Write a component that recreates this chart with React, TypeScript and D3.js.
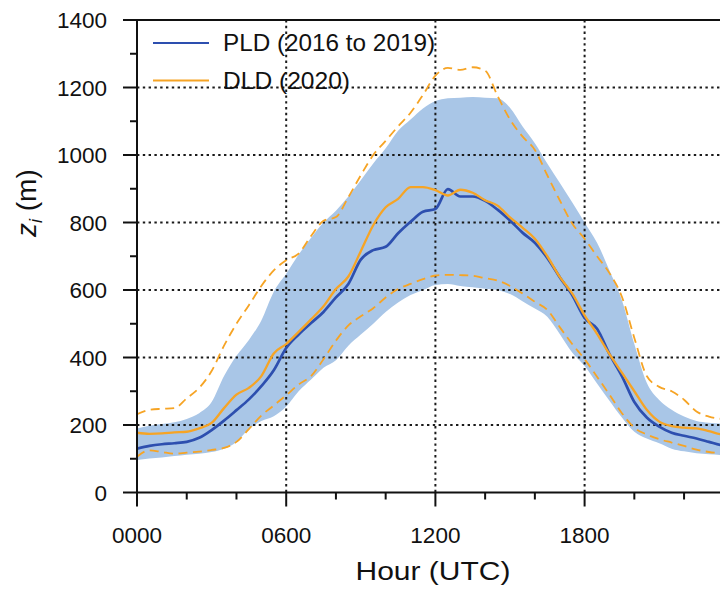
import React from "react";
import * as d3 from "d3";

// Hour of day (UTC), half-hourly
const hours: number[] = d3.range(0, 24.01, 0.5);

// PLD (2016 to 2019) mean boundary-layer height zi (m)
const pldMean: number[] = [
  130, 138, 143, 146, 150, 162, 185, 213, 244, 276, 315, 362, 428, 468, 502, 535,
  578, 618, 690, 718, 728, 768, 802, 832, 840, 899, 877, 877, 864, 838, 806, 770,
  740, 695, 638, 585, 517, 485, 410, 345, 268, 222, 195, 177, 168, 160, 150, 140, 135,
];

// PLD spread (shaded band)
const pldUpper: number[] = [
  190, 198, 203, 208, 218, 235, 268, 345, 405, 452, 510, 595, 648, 705, 755, 800,
  835, 877, 925, 975, 1020, 1072, 1105, 1138, 1160, 1168, 1170, 1172, 1170, 1168, 1140, 1085,
  1035, 975, 918, 860, 800, 740, 658, 570, 440, 325, 274, 245, 225, 212, 207, 204, 200,
];
const pldLower: number[] = [
  96, 101, 104, 108, 112, 115, 120, 130, 150, 188, 212, 226, 255, 300, 335, 370,
  392, 435, 468, 500, 535, 563, 585, 600, 615, 618, 612, 608, 604, 600, 588, 567,
  545, 521, 470, 415, 375, 323, 272, 222, 180, 160, 146, 130, 122, 116, 113, 111, 110,
];

// DLD (2020) mean and spread
const dldMean: number[] = [
  177, 174, 175, 178, 180, 190, 206, 250, 290, 310, 345, 412, 440, 476, 513, 552,
  603, 640, 715, 792, 845, 870, 905, 905, 896, 880, 897, 888, 866, 850, 815, 785,
  752, 700, 639, 590, 525, 470, 410, 355, 300, 245, 210, 197, 192, 190, 182, 172, 168,
];
const dldUpper: number[] = [
  232, 245, 248, 250, 279, 310, 360, 435, 500, 555, 612, 658, 688, 708, 760, 805,
  816, 875, 940, 1000, 1042, 1085, 1125, 1178, 1235, 1258, 1252, 1260, 1250, 1175, 1105, 1055,
  1015, 940, 866, 797, 752, 700, 650, 580, 458, 345, 313, 300, 275, 240, 225, 218, 215,
];
const dldLower: number[] = [
  106, 125, 120, 115, 118, 121, 126, 132, 150, 188, 228, 258, 288, 320, 345, 395,
  450, 495, 522, 546, 578, 603, 618, 632, 643, 645, 644, 642, 635, 628, 612, 590,
  565, 541, 490, 440, 395, 343, 290, 235, 192, 172, 158, 148, 138, 127, 120, 116, 114,
];

const xMajorTicks: number[] = [0, 6, 12, 18];
const xTickLabels: string[] = ["0000", "0600", "1200", "1800"];
const xMinorTicks: number[] = [2, 4, 8, 10, 14, 16, 20, 22];
const yMajorTicks: number[] = [0, 200, 400, 600, 800, 1000, 1200, 1400];
const yMinorTicks: number[] = [100, 300, 500, 700, 900, 1100, 1300];
const yGrid: number[] = [200, 400, 600, 800, 1000, 1200];
const xGrid: number[] = [6, 12, 18];

const legendItems = [
  { label: "PLD (2016 to 2019)", color: "#2d4faf", width: 212 },
  { label: "DLD (2020)", color: "#f6a425", width: 127 },
];

const W = 720;
const H = 589;
const left = 137;
const top = 20;
const bottom = 492.5;
const right = 733.8;

const FONT = "'Liberation Sans', Arial, Helvetica, sans-serif";

export default function App() {
  const x = d3.scaleLinear().domain([0, 24]).range([left, right]);
  const y = d3.scaleLinear().domain([0, 1400]).range([bottom, top]);

  const band = d3
    .area<number>()
    .x((_, i) => x(hours[i]))
    .y0((_, i) => y(pldLower[i]))
    .y1((_, i) => y(pldUpper[i]))
    .curve(d3.curveMonotoneX);

  const line = (vals: number[]) =>
    d3
      .line<number>()
      .x((_, i) => x(hours[i]))
      .y((d) => y(d))
      .curve(d3.curveMonotoneX)(vals) || "";

  const blue = legendItems[0].color;
  const orange = legendItems[1].color;

  return (
    <svg
      width={W}
      height={H}
      viewBox={`0 0 ${W} ${H}`}
      style={{ position: "absolute", left: 0, top: 0, background: "#fff" }}
    >
      <defs>
        <clipPath id="plot-clip">
          <rect x={left} y={top} width={W - left} height={bottom - top} />
        </clipPath>
      </defs>

      <g clipPath="url(#plot-clip)">
        {/* spread of the PLD years */}
        <path d={band(pldUpper) || ""} fill="#a9c6e7" stroke="none" />

        {/* dotted grid */}
        {yGrid.map((v) => (
          <line
            key={`gy${v}`}
            x1={left}
            x2={W}
            y1={y(v)}
            y2={y(v)}
            stroke="#1a1a1a"
            strokeWidth={2}
            strokeDasharray="2.4,3.4"
          />
        ))}
        {xGrid.map((v) => (
          <line
            key={`gx${v}`}
            x1={x(v)}
            x2={x(v)}
            y1={top}
            y2={bottom}
            stroke="#1a1a1a"
            strokeWidth={2}
            strokeDasharray="2.4,3.4"
          />
        ))}

        {/* DLD spread, dashed */}
        <path d={line(dldUpper)} fill="none" stroke={orange} strokeWidth={1.8} strokeDasharray="9,5.5" />
        <path d={line(dldLower)} fill="none" stroke={orange} strokeWidth={1.8} strokeDasharray="9,5.5" />

        {/* means */}
        <path d={line(pldMean)} fill="none" stroke={blue} strokeWidth={2.7} strokeLinejoin="round" />
        <path d={line(dldMean)} fill="none" stroke={orange} strokeWidth={2.3} strokeLinejoin="round" />
      </g>

      {/* axes frame */}
      <line x1={left} x2={W} y1={top} y2={top} stroke="#111" strokeWidth={2} />
      <line x1={left} x2={W} y1={bottom} y2={bottom} stroke="#111" strokeWidth={2} />
      <line x1={left} x2={left} y1={top - 1} y2={bottom + 1} stroke="#111" strokeWidth={2} />

      {/* y ticks */}
      {yMajorTicks.map((v) => (
        <g key={`yt${v}`}>
          <line x1={left - 14} x2={left} y1={y(v)} y2={y(v)} stroke="#111" strokeWidth={2} />
          <text
            x={left - 30}
            y={y(v)}
            dy="0.36em"
            textAnchor="end"
            fontFamily={FONT}
            fontSize={22.5}
            fill="#111"
          >
            {v}
          </text>
        </g>
      ))}
      {yMinorTicks.map((v) => (
        <line key={`ym${v}`} x1={left - 7} x2={left} y1={y(v)} y2={y(v)} stroke="#111" strokeWidth={2} />
      ))}

      {/* x ticks */}
      {xMajorTicks.map((v, i) => (
        <g key={`xt${v}`}>
          <line x1={x(v)} x2={x(v)} y1={bottom} y2={bottom + 14} stroke="#111" strokeWidth={2} />
          <text
            x={x(v)}
            y={543}
            textAnchor="middle"
            fontFamily={FONT}
            fontSize={22.5}
            fill="#111"
          >
            {xTickLabels[i]}
          </text>
        </g>
      ))}
      {xMinorTicks.map((v) => (
        <line key={`xm${v}`} x1={x(v)} x2={x(v)} y1={bottom} y2={bottom + 7} stroke="#111" strokeWidth={2} />
      ))}

      {/* axis titles */}
      <text
        x={433}
        y={580}
        textAnchor="middle"
        fontFamily={FONT}
        fontSize={26}
        fill="#111"
        textLength={155}
        lengthAdjust="spacingAndGlyphs"
      >
        Hour (UTC)
      </text>
      <text
        transform="translate(36,237) rotate(-90)"
        fontFamily={FONT}
        fontSize={28}
        fill="#111"
      >
        <tspan fontStyle="italic">z</tspan>
        <tspan fontStyle="italic" fontSize={18} dy={6}>i</tspan>
        <tspan dy={-6}> (m)</tspan>
      </text>

      {/* legend */}
      {legendItems.map((item, i) => (
        <g key={item.label}>
          <line
            x1={153}
            x2={209}
            y1={43 + i * 37.5}
            y2={43 + i * 37.5}
            stroke={item.color}
            strokeWidth={2.2}
          />
          <text
            x={223}
            y={51 + i * 37.5}
            fontFamily={FONT}
            fontSize={24}
            fill="#111"
            textLength={item.width}
            lengthAdjust="spacingAndGlyphs"
          >
            {item.label}
          </text>
        </g>
      ))}
    </svg>
  );
}
